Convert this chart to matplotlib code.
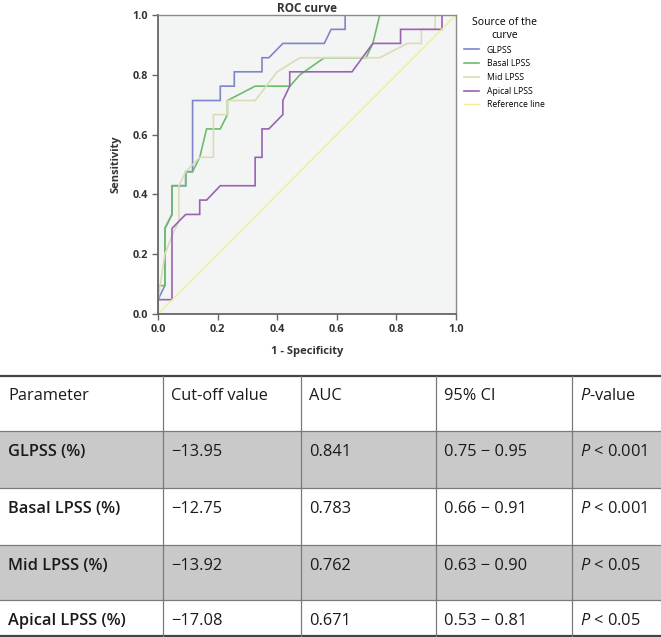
import matplotlib
matplotlib.use("Agg")
import matplotlib.pyplot as plt
from matplotlib.patches import Rectangle
from matplotlib.lines import Line2D

plt.rcParams['font.family'] = ['Open Sans', 'DejaVu Sans']
plt.rcParams['mathtext.fontset'] = 'custom'
plt.rcParams['mathtext.rm'] = 'Open Sans'
plt.rcParams['mathtext.it'] = 'Open Sans:italic'

# ---------------- ROC data ----------------
series_names = ["GLPSS", "Basal LPSS", "Mid LPSS", "Apical LPSS"]
series_colors = ["#7d86c9", "#6fba6f", "#dcdcb4", "#9a62b3"]

glpss_fpr = [0, 0, 0.023, 0.023, 0.047, 0.047, 0.093, 0.093, 0.116, 0.116, 0.209, 0.209, 0.256,
             0.256, 0.349, 0.349, 0.372, 0.419, 0.558, 0.581, 0.628, 0.628, 1.0]
glpss_tpr = [0, 0.048, 0.095, 0.286, 0.333, 0.429, 0.429, 0.476, 0.476, 0.714, 0.714, 0.762, 0.762,
             0.810, 0.810, 0.857, 0.857, 0.905, 0.905, 0.952, 0.952, 1.0, 1.0]

basal_fpr = [0, 0, 0.023, 0.023, 0.047, 0.047, 0.093, 0.093, 0.116, 0.140, 0.163, 0.209, 0.233,
             0.233, 0.326, 0.443, 0.476, 0.558, 0.698, 0.721, 0.744, 1.0]
basal_tpr = [0, 0.095, 0.095, 0.286, 0.333, 0.429, 0.429, 0.476, 0.476, 0.524, 0.619, 0.619, 0.667,
             0.714, 0.762, 0.762, 0.800, 0.857, 0.857, 0.905, 1.0, 1.0]

mid_fpr = [0, 0, 0.023, 0.047, 0.070, 0.070, 0.093, 0.140, 0.186, 0.186, 0.233, 0.233, 0.326,
           0.400, 0.476, 0.744, 0.837, 0.884, 0.884, 0.930, 0.930, 1.0]
mid_tpr = [0, 0.048, 0.200, 0.262, 0.310, 0.429, 0.476, 0.524, 0.524, 0.667, 0.667, 0.714, 0.714,
           0.810, 0.857, 0.857, 0.905, 0.905, 0.952, 0.952, 1.0, 1.0]

apical_fpr = [0, 0, 0.047, 0.047, 0.070, 0.093, 0.140, 0.140, 0.163, 0.209, 0.326, 0.326, 0.349,
              0.349, 0.372, 0.419, 0.419, 0.442, 0.442, 0.651, 0.721, 0.814, 0.814, 0.953, 0.953, 1.0]
apical_tpr = [0, 0.048, 0.048, 0.286, 0.310, 0.333, 0.333, 0.381, 0.381, 0.429, 0.429, 0.524, 0.524,
              0.619, 0.619, 0.667, 0.714, 0.762, 0.810, 0.810, 0.905, 0.905, 0.952, 0.952, 1.0, 1.0]

ref_x = [0, 1]
ref_y = [0, 1]
ref_color = "#eeee9c"

ticks = [0.0, 0.2, 0.4, 0.6, 0.8, 1.0]
tick_labels = ["0.0", "0.2", "0.4", "0.6", "0.8", "1.0"]

# ---------------- Table data ----------------
col_headers = ["Parameter", "Cut-off value", "AUC", "95% CI", "$\\mathit{P}$-value"]
parameters = ["GLPSS (%)", "Basal LPSS (%)", "Mid LPSS (%)", "Apical LPSS (%)"]
cutoffs = ["\u221213.95", "\u221212.75", "\u221213.92", "\u221217.08"]
aucs = ["0.841", "0.783", "0.762", "0.671"]
cis = ["0.75 \u2212 0.95", "0.66 \u2212 0.91", "0.63 \u2212 0.90", "0.53 \u2212 0.81"]
pvalues = ["$\\mathit{P}$ < 0.001", "$\\mathit{P}$ < 0.001", "$\\mathit{P}$ < 0.05", "$\\mathit{P}$ < 0.05"]

W, H = 661, 637
fig = plt.figure(figsize=(W / 100, H / 100), dpi=100)

# ---------------- ROC axes ----------------
ax_l, ax_r, ax_t, ax_b = 158, 456, 15, 314
ax = fig.add_axes([ax_l / W, 1 - ax_b / H, (ax_r - ax_l) / W, (ax_b - ax_t) / H])
ax.set_facecolor("#f3f5f5")
curves = [(glpss_fpr, glpss_tpr), (basal_fpr, basal_tpr), (mid_fpr, mid_tpr), (apical_fpr, apical_tpr)]
handles = []
for (fx, ty), name, c in zip(curves, series_names, series_colors):
    h, = ax.plot(fx, ty, color=c, lw=1.2, label=name, solid_joinstyle='miter')
    handles.append(h)
h, = ax.plot(ref_x, ref_y, color=ref_color, lw=1.0, label="Reference line")
handles.append(h)
ax.set_xlim(0, 1)
ax.set_ylim(0, 1)
ax.set_xticks(ticks)
ax.set_yticks(ticks)
ax.set_xticklabels(tick_labels, fontweight='bold', fontsize=7.8, color="#333333")
ax.set_yticklabels(tick_labels, fontweight='bold', fontsize=7.8, color="#333333")
ax.tick_params(direction='out', length=4, width=1, color="#666666", pad=3)
for s in ax.spines.values():
    s.set_color("#8a8a8a")
    s.set_linewidth(1.0)
for s in ['left', 'bottom']:
    ax.spines[s].set_color("#666666")
    ax.spines[s].set_linewidth(1.3)
ax.set_xlabel("1 - Specificity", fontweight='bold', fontsize=8, color="#333333", labelpad=8)
ax.set_ylabel("Sensitivity", fontweight='bold', fontsize=8, color="#333333", labelpad=8)
ax.set_title("ROC curve", fontweight='bold', fontsize=8.5, color="#333333", pad=2)

leg = ax.legend(handles=handles, title="Source of the\ncurve", loc='upper left',
                bbox_to_anchor=(1.01, 1.01), frameon=False, fontsize=6.2,
                title_fontsize=7.5, handlelength=1.7, handletextpad=0.9,
                labelspacing=0.55, borderaxespad=0.2)
leg.get_title().set_multialignment('center')

# ---------------- Table ----------------
tax = fig.add_axes([0, 0, 1, 1], zorder=-1)
tax.set_xlim(0, W)
tax.set_ylim(H, 0)
tax.axis('off')

col_x = [0, 163, 301, 436, 572, 661]
row_y = [376, 431, 488, 545, 600, 636]
gray = "#c9c9c9"
for i in range(len(parameters)):
    if i % 2 == 0:
        tax.add_patch(Rectangle((0, row_y[i + 1]), W, row_y[i + 2] - row_y[i + 1],
                                facecolor=gray, edgecolor='none'))
for k, y in enumerate(row_y):
    if k == 0 or k == len(row_y) - 1:
        tax.add_line(Line2D([0, W], [y, y], color="#444444", lw=1.6))
    else:
        tax.add_line(Line2D([0, W], [y, y], color="#7a7a7a", lw=0.9))
for x in col_x[1:-1]:
    tax.add_line(Line2D([x, x], [row_y[0], row_y[-1]], color="#7a7a7a", lw=0.9))

fs = 11.8
pad = 8
for j, txt in enumerate(col_headers):
    tax.text(col_x[j] + pad, row_y[0] + 20, txt, fontsize=fs, va='center', ha='left', color="#1a1a1a")
rows = list(zip(parameters, cutoffs, aucs, cis, pvalues))
for i, row in enumerate(rows):
    yc = row_y[i + 1] + 21
    for j, txt in enumerate(row):
        tax.text(col_x[j] + pad, yc, txt, fontsize=fs, va='center', ha='left', color="#1a1a1a",
                 fontweight='semibold' if j == 0 else 'normal')

fig.savefig("out.png", dpi=100)
